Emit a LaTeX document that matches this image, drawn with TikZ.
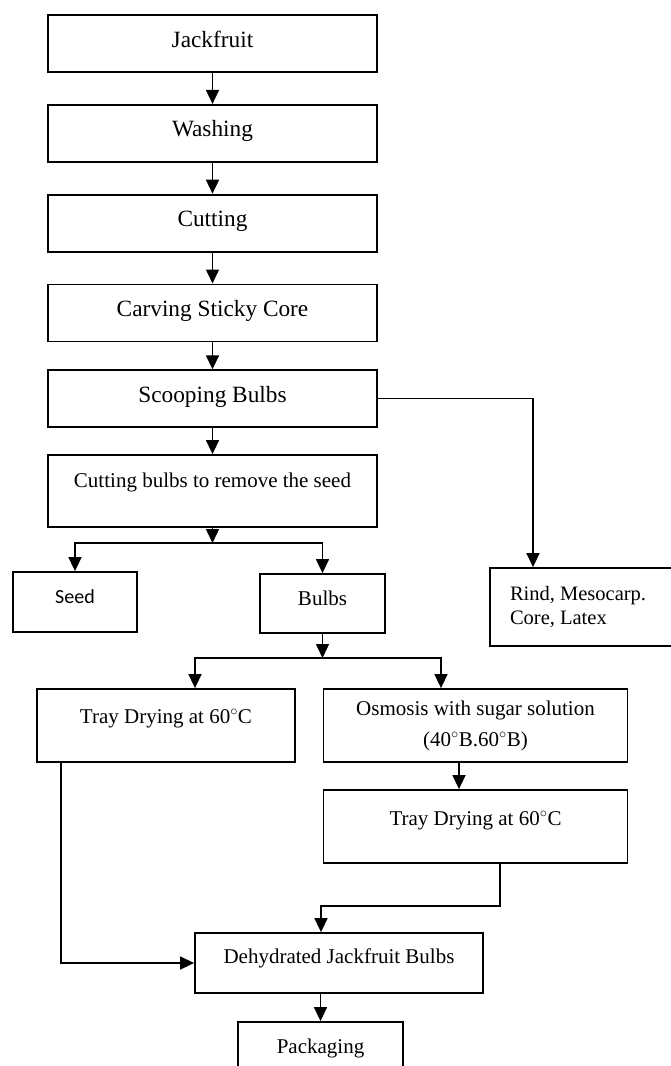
\documentclass[tikz,border=0pt]{standalone}
\usepackage{fontspec}
\setmainfont{Liberation Serif}
\newfontfamily\seedfont{Carlito}
\usetikzlibrary{arrows.meta,positioning}
\tikzset{
  stage/.style={draw, line width=1.8pt, minimum width=329pt, minimum height=57pt, inner sep=0pt, align=center, font=\fontsize{23.3}{28}\selectfont, text height=13pt, text depth=6pt},
  stagelow/.style={draw, line width=1.8pt, inner sep=0pt, align=center, font=\fontsize{21}{31}\selectfont},
  lift/.style 2 args={text height=#1, text depth=#2},
  arr/.style={-{Triangle[length=14pt,width=13pt]}, line width=1.5pt}
}
\begin{document}
\begin{tikzpicture}[x=1pt, y=-1pt, node distance=31pt]
\useasboundingbox (0,0) rectangle (671,1066);
% main line
\node[stage] (jack) at (212.5,43.5) {Jackfruit};
\node[stage, below=of jack] (wash) {Washing};
\node[stage, below=of wash] (cut) {Cutting};
\node[stage, below=of cut] (carve) {Carving Sticky Core};
\node[stage, below=27pt of carve] (scoop) {Scooping Bulbs};
\node[stagelow, minimum width=329pt, minimum height=72pt, lift={6pt}{14pt}, below=26pt of scoop] (seedcut) {Cutting bulbs to remove the seed};
% by-products
\node[stagelow, minimum width=124pt, minimum height=60pt, lift={8pt}{6pt}, font=\seedfont\fontsize{20}{24}\selectfont] (seed) at (75,602) {Seed};
\node[stagelow, minimum width=125pt, minimum height=59pt, lift={9pt}{6pt}] (bulbs) at (322.5,603.5) {Bulbs};
\node[stagelow, minimum height=78pt, text width=146pt, inner xsep=20pt, align=flush left, font=\fontsize{20.5}{23.5}\selectfont] (rind) at (583,607) {Rind, Mesocarp.\\Core, Latex};
% drying
\node[stagelow, minimum width=258.5pt, minimum height=73pt, lift={6pt}{11pt}] (tray1) at (166,725.5) {Tray Drying at 60$^{\circ}$C};
\node[stagelow, minimum width=304pt, minimum height=73pt] (osmo) at (475.5,725.5) {Osmosis with sugar solution\\(40$^{\circ}$B.60$^{\circ}$B)};
\node[stagelow, minimum width=304pt, minimum height=73pt, lift={6pt}{9pt}] (tray2) at (475.5,826.5) {Tray Drying at 60$^{\circ}$C};
\node[stagelow, minimum width=288pt, minimum height=60pt, lift={6pt}{6pt}] (dehyd) at (339,963) {Dehydrated Jackfruit Bulbs};
\node[stagelow, minimum width=165pt, minimum height=58pt, lift={11pt}{6pt}] (pack) at (320.5,1051) {Packaging};
\coordinate (split1) at (212.5,543);
\coordinate (split2) at (322.5,658);
\coordinate (merge) at (321,906);
\draw[arr] (jack) -- (wash);
\draw[arr] (wash) -- (cut);
\draw[arr] (cut) -- (carve);
\draw[arr] (carve) -- (scoop);
\draw[arr] (scoop) -- (seedcut);
\draw[arr] (scoop.east) -| ([xshift=-50pt]rind.north);
\draw[arr] (seedcut) -- (split1);
\draw[arr] (split1) -| (seed);
\draw[arr] (split1) -| (bulbs);
\draw[arr] (bulbs) -- (split2);
\draw[arr] (split2) -| ([xshift=29pt]tray1.north);
\draw[arr] (split2) -| ([xshift=-34.5pt]osmo.north);
\draw[arr] ([xshift=-16.5pt]osmo.south) -- ([xshift=-16.5pt]tray2.north);
\draw[arr] ([xshift=24.5pt]tray2.south) |- (merge) -- (merge |- dehyd.north);
\draw[arr] ([xshift=-105pt]tray1.south) |- (dehyd.west);
\draw[arr] (dehyd.south -| pack.north) -- (pack.north);
\end{tikzpicture}
\end{document}
